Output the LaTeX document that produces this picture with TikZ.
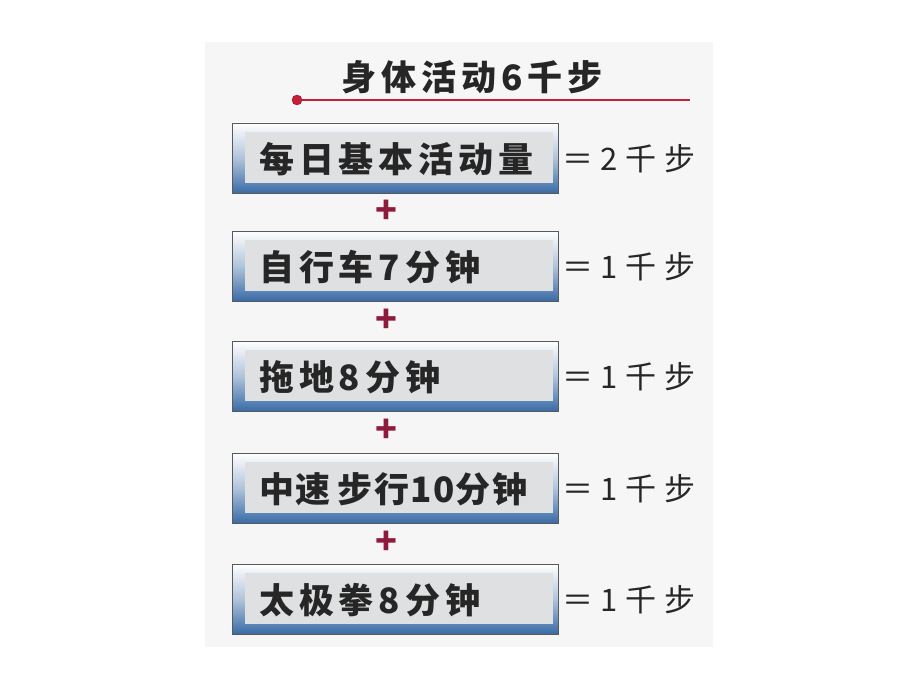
\documentclass[tikz,border=0pt]{standalone}
\usepackage{fontspec}
\newfontfamily\cjkb{Noto Sans CJK SC}[LetterSpace=14]
\newfontfamily\cjkt{Noto Sans CJK SC}[LetterSpace=4]
\newfontfamily\cjkplain{Noto Sans CJK SC}
\newfontfamily\cjkr{Noto Sans CJK SC}[LetterSpace=25]
\definecolor{panelbg}{HTML}{F6F6F6}
\definecolor{boxblue}{HTML}{3A6BA6}
\definecolor{innergray}{HTML}{DEE0E1}
\definecolor{linered}{HTML}{C81E3C}
\definecolor{plusred}{HTML}{8E1A3C}
\begin{document}
\begin{tikzpicture}[x=1pt,y=-1pt,
  outerbox/.style={draw=gray!70!black, line width=0.8pt, top color=white, bottom color=boxblue, middle color=white!60!boxblue, shading angle=0},
  innerbox/.style={fill=innergray, draw=none},
  boxtext/.style={anchor=west, inner sep=0pt, font=\cjkb\bfseries\fontsize{35}{35}\selectfont, text=black!85},
  eqtext/.style={anchor=west, inner sep=0pt, font=\cjkr\fontsize{31}{31}\selectfont, text=black!85},
  plussign/.style={text=plusred, font=\cjkplain\bfseries\fontsize{36}{36}\selectfont, inner sep=0pt},
  titletext/.style={inner sep=0pt, font=\cjkb\bfseries\fontsize{35}{35}\selectfont, text=black!85}]
\useasboundingbox (0,0) rectangle (920,690);
\fill[white] (0,0) rectangle (920,690);
\fill[panelbg] (205,42) rectangle (713,647);
\node[titletext] (title) at (472,77) {身体活动6千步};
\coordinate (lineend) at (690,100);
\node[circle, fill=linered, draw=linered!70!black, minimum size=10pt, inner sep=0pt] (dot) at (297,100) {};
\draw[linered, line width=1.6pt] (dot) -- (lineend);
\foreach \i/\y/\txt/\eq in {1/158/每日基本活动量/2, 2/266/自行车7分钟/1, 3/376/拖地8分钟/1, 4/488/{\cjkt\bfseries 中速\hspace{7pt}步行10分钟}/1, 5/599/太极拳8分钟/1}{
  \draw[outerbox] (232,\y-35) rectangle (558,\y+35);
  \fill[innerbox] (245,\y-26) rectangle (553,\y+25);
  \node[boxtext] (b\i) at (259,\y+1) {\txt};
  \node[eqtext] (e\i) at (562,\y+1) {＝\eq 千步};
}
\foreach \i/\y in {1/212,2/321,3/431,4/543}{
  \node[plussign] (p\i) at (386,\y) {+};
}
\end{tikzpicture}
\end{document}
